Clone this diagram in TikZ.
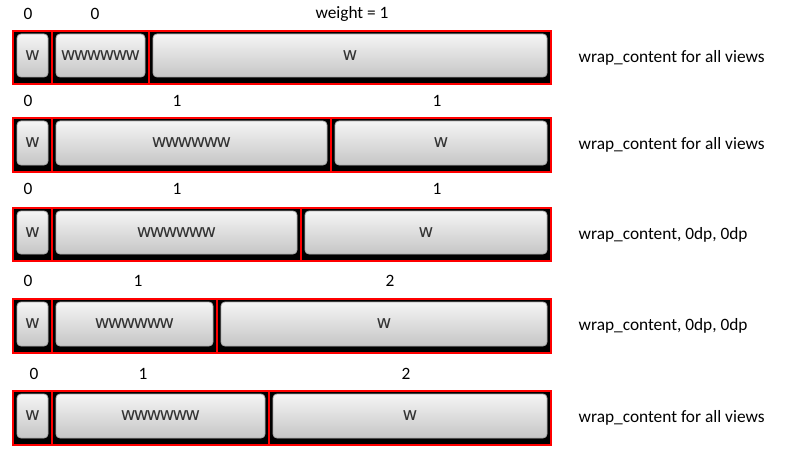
\documentclass[tikz,border=0pt]{standalone}
\usepackage{fontspec}
\setmainfont{Carlito}
\newfontfamily\btnfont[LetterSpace=-10]{DejaVu Sans}
\begin{document}
\begin{tikzpicture}[x=0.75pt,y=-0.75pt,
    cell/.style={draw=red, fill=black, line width=1pt},
    btn/.style={draw=gray!65, rounded corners=3pt, top color=gray!8, bottom color=gray!45, line width=0.6pt},
    btnlbl/.style={font=\btnfont\fontsize{13.5}{15}\selectfont, text=black!80},
    wlbl/.style={font=\fontsize{13}{15}\selectfont},
    note/.style={font=\fontsize{13}{15}\selectfont, anchor=west}]
  \useasboundingbox[fill=white] (0,0) rectangle (800,460);
  % one bar per row: top/bottom/divider/label row/label x's/labels/note
  \foreach \t/\b/\d/\ly/\xa/\xb/\xc/\la/\lb/\lc/\txt [count=\i] in {
      31/84/149/14/28/95/352/0/0/{weight = 1}/{wrap\_content for all views},
      118/172/331/101/28/177/437/0/1/1/{wrap\_content for all views},
      208/261/301/189/28/177/437/0/1/1/{wrap\_content, 0dp, 0dp},
      299/353/217/281/28/138/390/0/1/2/{wrap\_content, 0dp, 0dp},
      391/445/269/374/34/143/406/0/1/2/{wrap\_content for all views}}
  {
    \draw[cell] (13,\t) rectangle (52,\b);
    \draw[cell] (52,\t) rectangle (\d,\b);
    \draw[cell] (\d,\t) rectangle (551,\b);
    \draw[btn] (17,\t+3) rectangle (48,\b-7);
    \draw[btn] (56,\t+3) rectangle (\d-4,\b-7);
    \draw[btn] (\d+4,\t+3) rectangle (547,\b-7);
    \node[btnlbl] (w\i a) at (32.5,{(\t+\b-4)/2}) {w};
    \node[btnlbl] (w\i b) at ({(52+\d)/2},{(\t+\b-4)/2}) {wwwwww};
    \node[btnlbl] (w\i c) at ({(\d+551)/2},{(\t+\b-4)/2}) {w};
    \node[wlbl] (n\i a) at (\xa,\ly) {\la};
    \node[wlbl] (n\i b) at (\xb,\ly) {\lb};
    \node[wlbl] (n\i c) at (\xc,\ly) {\lc};
    \node[note] (t\i) at (574,{(\t+\b)/2}) {\txt};
  }
\end{tikzpicture}
\end{document}
